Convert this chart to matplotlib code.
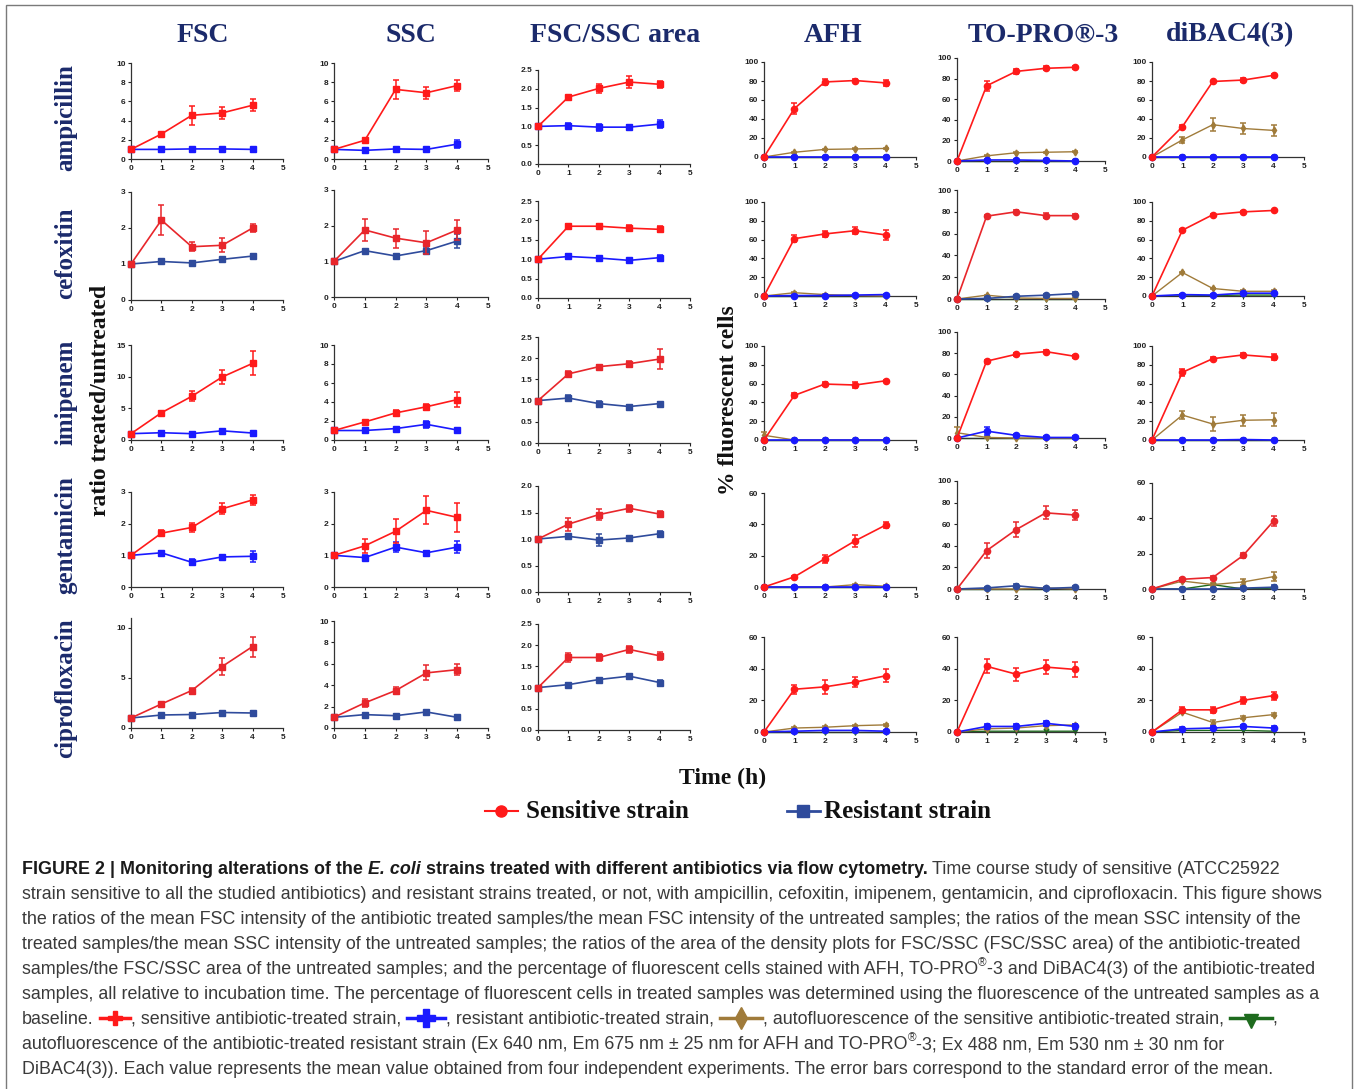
import numpy as np
import matplotlib

matplotlib.use('Agg')  # no display
import matplotlib.pyplot as plt
from matplotlib.lines import Line2D
from matplotlib.patches import Rectangle

# ---- data (time course, 5 antibiotics x 6 measures) ----
TIME = [0, 1, 2, 3, 4]
ANTIBIOTICS = ["ampicillin", "cefoxitin", "imipenem", "gentamicin", "ciprofloxacin"]
MEASURES = ["FSC", "SSC", "FSC/SSC area", "AFH", "TO-PRO\u00ae-3", "diBAC4(3)"]

FSC_S = [[1, 2.6, 4.55, 4.8, 5.6],
         [1, 2.22, 1.48, 1.52, 2.0],
         [1, 4.3, 6.9, 9.95, 12.1],
         [1, 1.7, 1.88, 2.47, 2.75],
         [1, 2.4, 3.75, 6.15, 8.15]]
FSC_S_ERR = [[0, 0.15, 1.0, 0.6, 0.65],
             [0, 0.42, 0.12, 0.2, 0.1],
             [0, 0.2, 0.8, 1.1, 1.9],
             [0, 0.1, 0.15, 0.17, 0.15],
             [0, 0.15, 0.3, 0.85, 1.0]]
FSC_R = [[1, 1.0, 1.05, 1.05, 1.0],
         [1, 1.07, 1.03, 1.13, 1.22],
         [1, 1.15, 1.0, 1.45, 1.1],
         [1, 1.08, 0.78, 0.95, 0.97],
         [1, 1.3, 1.35, 1.55, 1.5]]
FSC_R_ERR = [[0, 0.1, 0.1, 0.1, 0.1],
             [0, 0.04, 0.04, 0.05, 0.05],
             [0, 0.25, 0.2, 0.25, 0.2],
             [0, 0.05, 0.1, 0.05, 0.18],
             [0, 0.2, 0.2, 0.2, 0.2]]

SSC_S = [[1, 1.95, 7.25, 6.9, 7.65],
         [1, 1.88, 1.65, 1.52, 1.88],
         [1, 1.9, 2.85, 3.5, 4.25],
         [1, 1.3, 1.76, 2.42, 2.2],
         [1, 2.35, 3.5, 5.15, 5.45]]
SSC_S_ERR = [[0, 0.1, 0.95, 0.65, 0.6],
             [0, 0.3, 0.27, 0.32, 0.28],
             [0, 0.15, 0.3, 0.3, 0.8],
             [0, 0.23, 0.38, 0.44, 0.45],
             [0, 0.35, 0.35, 0.7, 0.5]]
SSC_R = [[1, 0.9, 1.05, 1.0, 1.55],
         [1, 1.3, 1.15, 1.3, 1.57],
         [1, 1.0, 1.2, 1.65, 1.05],
         [1, 0.93, 1.26, 1.08, 1.26],
         [1, 1.25, 1.15, 1.5, 1.0]]
SSC_R_ERR = [[0, 0.1, 0.15, 0.1, 0.4],
             [0, 0.05, 0.05, 0.1, 0.2],
             [0, 0.1, 0.1, 0.4, 0.15],
             [0, 0.08, 0.15, 0.05, 0.2],
             [0, 0.1, 0.1, 0.1, 0.1]]

AREA_S = [[1, 1.78, 2.01, 2.18, 2.12],
          [1, 1.85, 1.85, 1.8, 1.77],
          [1, 1.63, 1.8, 1.87, 1.98],
          [1, 1.28, 1.46, 1.58, 1.47],
          [1, 1.71, 1.71, 1.9, 1.75]]
AREA_S_ERR = [[0, 0.03, 0.12, 0.15, 0.1],
              [0, 0.05, 0.05, 0.07, 0.08],
              [0, 0.07, 0.04, 0.07, 0.24],
              [0, 0.12, 0.1, 0.07, 0.05],
              [0, 0.1, 0.08, 0.09, 0.09]]
AREA_R = [[1, 1.02, 0.98, 0.98, 1.06],
          [1, 1.07, 1.03, 0.97, 1.04],
          [1, 1.06, 0.93, 0.86, 0.93],
          [1, 1.05, 0.98, 1.02, 1.1],
          [1, 1.07, 1.19, 1.27, 1.12]]
AREA_R_ERR = [[0, 0.06, 0.09, 0.05, 0.1],
              [0, 0.07, 0.06, 0.03, 0.06],
              [0, 0.08, 0.05, 0.03, 0.04],
              [0, 0.03, 0.12, 0.04, 0.05],
              [0, 0.05, 0.04, 0.06, 0.07]]

AFH_S = [[0, 51, 79, 80.5, 78],
         [0, 61, 66, 69.5, 65],
         [0, 47.5, 59.5, 58.5, 63],
         [0, 6.5, 18, 29.5, 39.5],
         [0, 27, 28.5, 31.5, 35.5]]
AFH_S_ERR = [[0, 6, 3, 2, 3],
             [0, 4, 3.5, 4, 5],
             [0, 2, 2, 3.5, 1],
             [0, 0.5, 2.5, 4, 2],
             [0, 3, 4.5, 3, 4]]
AFH_R = [[0, 0, 0, 0, 0],
         [0, 0.5, 0.5, 1, 1.5],
         [0, 0, 0, 0, 0],
         [0, 0, 0, 0, 0],
         [0, 0.5, 1, 1, 0.5]]
AFH_R_ERR = [[0, 1, 1, 1, 1],
             [0, 1, 1, 1, 1],
             [0, 0.5, 0.5, 0.5, 0.5],
             [0, 0.5, 0.5, 0.5, 0.5],
             [0, 1, 1, 1, 1]]
AFH_AUTO_S = [[0, 5, 8, 8.5, 9],
              [0, 3.5, 1.5, 0.5, 0],
              [5, 0, 0, 0, 0],
              [0, 0, 0, 1.5, 0.5],
              [0, 2.5, 3, 4, 4.5]]
AFH_AUTO_S_ERR = [[0, 0.5, 0.5, 0.5, 0.5],
                  [0, 0.5, 0.5, 0.5, 0],
                  [3, 0, 0, 0, 0],
                  [0, 0, 0, 0.5, 0.5],
                  [0, 0.5, 0.5, 0.5, 0.5]]
AFH_AUTO_R = [[0, 0, 0, 0, 0],
              [0, 0, 0, 0, 0],
              [0, 0, 0, 0, 0],
              [0, 0, 0, 0, 0],
              [0, 0, 0, 0, 0]]

TOPRO_S = [[0, 73, 87, 90, 91],
           [0, 76, 80, 76.5, 76.5],
           [0, 72.5, 79, 81.5, 77],
           [0, 35.5, 55, 70.5, 68.5],
           [0, 41.5, 36.5, 41, 39.5]]
TOPRO_S_ERR = [[0, 5, 2.5, 2, 1.5],
               [0, 1, 1.5, 2.5, 1.5],
               [0, 1.5, 1.5, 1.5, 1.5],
               [0, 7, 7, 6, 5],
               [0, 4.5, 4, 4.5, 4.5]]
TOPRO_R = [[0, 1, 1, 0.5, 0],
           [0, 0.5, 2.5, 3.5, 5],
           [0, 6.5, 2.5, 0.5, 0.5],
           [0, 1, 3, 0.5, 1.5],
           [0, 3.5, 3.5, 5.5, 3.5]]
TOPRO_R_ERR = [[0, 1, 1, 1, 1],
               [0, 1, 1, 1.5, 1.5],
               [0, 4, 1.5, 1, 1],
               [0, 1, 1.5, 1, 1],
               [0, 1.5, 1.5, 1.5, 1.5]]
TOPRO_AUTO_S = [[0, 5, 8, 8.5, 9],
                [0, 3.5, 1, 0.5, 0.5],
                [5, 0.5, 0, 0, 0],
                [0, 0, 0, 1, 0],
                [0, 2, 2.5, 4, 4.5]]
TOPRO_AUTO_S_ERR = [[0, 0.5, 0.5, 0.5, 0.5],
                    [0, 0.5, 0.5, 0.5, 0.5],
                    [5, 0.5, 0, 0, 0],
                    [0, 0, 0, 0.5, 0],
                    [0, 0.5, 0.5, 0.5, 0.5]]
TOPRO_AUTO_R = [[0, 0, 0, 0, 0],
                [0, 0, 0, 0, 0],
                [0, 0, 0, 0, 0],
                [0, 0, 0, 0, 0],
                [0, 0.5, 0.5, 0.5, 0.5]]

DIBAC_S = [[0, 32, 79.5, 81, 86],
           [0, 70, 86.5, 89.5, 91],
           [0, 72, 86.5, 90.5, 88],
           [0, 5.5, 6.5, 19, 38.5],
           [0, 14, 14, 20, 23]]
DIBAC_S_ERR = [[0, 1.5, 1, 2.5, 1.5],
               [0, 1, 1, 1, 1],
               [0, 4, 1.5, 2.5, 3],
               [0, 1, 1, 1.5, 3],
               [0, 2, 2, 2, 2.5]]
DIBAC_R = [[0, 0, 0, 0, 0],
           [0, 1.5, 1, 3, 3],
           [0, 0, 0, 0.5, 0],
           [0, 0, 0, 0.5, 1],
           [0, 2, 2.5, 3.5, 2.5]]
DIBAC_R_ERR = [[0, 1, 1, 1, 1],
               [0, 1, 1, 1, 1],
               [0, 0.5, 0.5, 1, 0.5],
               [0, 0.5, 0.5, 0.5, 1],
               [0, 1, 1, 1, 1]]
DIBAC_AUTO_S = [[0, 18, 34, 30, 28],
                [0, 25, 8, 5, 5],
                [0, 26.5, 17, 21, 21.5],
                [0, 4.5, 2.5, 4, 7],
                [0, 12.5, 6, 9, 11]]
DIBAC_AUTO_S_ERR = [[0, 3, 7, 6, 6],
                    [0, 1, 1, 1, 1],
                    [0, 4, 7, 6, 7],
                    [0, 0.5, 1, 1.5, 2.5],
                    [0, 0.5, 1.5, 1, 1]]
DIBAC_AUTO_R = [[0, 0, 0, 0, 0],
                [0, 0, 0.5, 1, 1],
                [0, 0, 0, 0, 0],
                [0, 0, 2.5, 0, 0.5],
                [0, 1, 1, 1, 0.5]]

# ---- layout (pixels in a 1358 x 1089 canvas) ----
W, H = 1358, 1089
COL_X0 = [131, 334, 538, 764, 957, 1152]
COL_X5 = [283, 488, 690, 916, 1105, 1304]
PANEL_TOP = [[63, 63, 70, 62, 58, 62],
             [192, 190, 201, 202, 190, 202],
             [345, 345, 337, 346, 332, 346],
             [492, 492, 486, 493, 481, 483],
             [618, 621, 624, 637, 637, 637]]
PANEL_BOTTOM = [[159, 159, 164, 157, 161, 157],
                [300, 297, 298, 296, 299, 296],
                [440, 440, 443, 440, 438, 440],
                [587, 587, 592, 587, 589, 589],
                [728, 728, 730, 732, 732, 732]]
YMAX = [[10, 10, 2.5, 100, 100, 100],
        [3, 3, 2.5, 100, 100, 100],
        [15, 10, 2.5, 100, 100, 100],
        [3, 3, 2.0, 60, 100, 60],
        [11, 10, 2.5, 60, 60, 60]]
YSTEP = [[2, 2, 0.5, 20, 20, 20],
         [1, 1, 0.5, 20, 20, 20],
         [5, 2, 0.5, 20, 20, 20],
         [1, 1, 0.5, 20, 20, 20],
         [5, 2, 0.5, 20, 20, 20]]
# panels where the resistant strain is drawn in navy rather than pure blue
NAVY_PANEL = [[0, 0, 0, 0, 0, 0],
              [1, 1, 0, 0, 1, 0],
              [0, 0, 1, 0, 0, 0],
              [0, 0, 1, 0, 1, 1],
              [1, 1, 1, 0, 0, 0]]

RED = '#ff1a1a'
RED_DIM = '#e8262b'
BLUE = '#1a1aff'
NAVY = '#2f4b9c'
BROWN = '#a07b3a'
GREEN = '#1e6b1e'
TITLE_C = '#1b2a6b'

SENS = [FSC_S, SSC_S, AREA_S, AFH_S, TOPRO_S, DIBAC_S]
SENS_ERR = [FSC_S_ERR, SSC_S_ERR, AREA_S_ERR, AFH_S_ERR, TOPRO_S_ERR, DIBAC_S_ERR]
RES = [FSC_R, SSC_R, AREA_R, AFH_R, TOPRO_R, DIBAC_R]
RES_ERR = [FSC_R_ERR, SSC_R_ERR, AREA_R_ERR, AFH_R_ERR, TOPRO_R_ERR, DIBAC_R_ERR]
AUTO_S = {3: AFH_AUTO_S, 4: TOPRO_AUTO_S, 5: DIBAC_AUTO_S}
AUTO_S_ERR = {3: AFH_AUTO_S_ERR, 4: TOPRO_AUTO_S_ERR, 5: DIBAC_AUTO_S_ERR}
AUTO_R = {3: AFH_AUTO_R, 4: TOPRO_AUTO_R, 5: DIBAC_AUTO_R}

fig = plt.figure(figsize=(W / 100, H / 100), dpi=100)


def fx(x):
    return x / W


def fy(y):
    return 1 - y / H


def series(ax, y, err, color, marker, ms, z, lw=1.2):
    cont = ax.errorbar(TIME, y, yerr=err, color=color, marker=marker, ms=ms,
                       lw=lw, elinewidth=1.1, capsize=2, capthick=1.1,
                       mec=color, zorder=z)
    for art in cont.get_children():
        art.set_clip_on(False)


for r in range(5):
    for c in range(6):
        x0, x5 = COL_X0[c], COL_X5[c]
        top, bot = PANEL_TOP[r][c], PANEL_BOTTOM[r][c]
        ax = fig.add_axes([fx(x0), fy(bot), (x5 - x0) / W, (bot - top) / H])
        ax.set_xlim(0, 5)
        ax.set_ylim(0, YMAX[r][c])
        for s in ['top', 'right']:
            ax.spines[s].set_visible(False)
        for s in ['left', 'bottom']:
            ax.spines[s].set_color('#333333')
            ax.spines[s].set_linewidth(0.9)
        ax.set_xticks(range(6))
        yt = np.arange(0, YMAX[r][c] + 1e-9, YSTEP[r][c])
        ax.set_yticks(yt)
        if c == 2:
            ax.set_yticklabels(['%.1f' % v for v in yt])
        else:
            ax.set_yticklabels(['%g' % v for v in yt])
        ax.tick_params(length=2.5, width=0.8, pad=1.5, labelsize=6,
                       colors='#222222')
        for lab in ax.get_xticklabels() + ax.get_yticklabels():
            lab.set_fontweight('bold')
            lab.set_family('Liberation Sans')
        ax.patch.set_alpha(0)

        res_c = NAVY if NAVY_PANEL[r][c] else BLUE
        red_c = RED_DIM if NAVY_PANEL[r][c] else RED
        if c < 3:
            series(ax, RES[c][r], RES_ERR[c][r], res_c, 's', 5, 3)
            series(ax, SENS[c][r], SENS_ERR[c][r], red_c, 's', 5, 4)
        else:
            series(ax, AUTO_R[c][r], None, GREEN, 'v', 3.5, 2, lw=1.0)
            series(ax, AUTO_S[c][r], AUTO_S_ERR[c][r], BROWN, 'd', 3.5, 3, lw=1.0)
            series(ax, RES[c][r], RES_ERR[c][r], res_c, 'o', 4.5, 4)
            series(ax, SENS[c][r], SENS_ERR[c][r], red_c, 'o', 4.5, 5)

# ---- titles and labels ----
serif = 'Liberation Serif'
title_x = [203, 411, 615, 833, 1043, 1230]
for name, xc in zip(MEASURES, title_x):
    fig.text(fx(xc), fy(35), name, ha='center', va='center', fontsize=20,
             family=serif, weight='bold', color=TITLE_C)

row_y = [118, 253, 392, 535, 688]
for name, yc in zip(ANTIBIOTICS, row_y):
    fig.text(fx(66), fy(yc), name, ha='center', va='center', rotation=90,
             fontsize=18, family=serif, weight='bold', color=TITLE_C)

fig.text(fx(101), fy(400), 'ratio treated/untreated', ha='center', va='center',
         rotation=90, fontsize=17, family=serif, weight='bold', color='#111111')
fig.text(fx(728), fy(400), '% fluorescent cells', ha='center', va='center',
         rotation=90, fontsize=17, family=serif, weight='bold', color='#111111')
fig.text(fx(723), fy(778), 'Time (h)', ha='center', va='center',
         fontsize=17, family=serif, weight='bold', color='#111111')

# legend
fig.add_artist(Line2D([fx(485), fx(518)], [fy(811), fy(811)], color=RED, lw=1.5,
                      transform=fig.transFigure))
fig.add_artist(Line2D([fx(501)], [fy(811)], color=RED, marker='o', ms=8,
                      transform=fig.transFigure))
fig.text(fx(526), fy(811), 'Sensitive strain', ha='left', va='center',
         fontsize=18, family=serif, weight='bold', color='#111111')
fig.add_artist(Line2D([fx(787), fx(820)], [fy(811), fy(811)], color=NAVY, lw=2,
                      transform=fig.transFigure))
fig.add_artist(Line2D([fx(803)], [fy(811)], color=NAVY, marker='s', ms=8,
                      transform=fig.transFigure))
fig.text(fx(824), fy(811), 'Resistant strain', ha='left', va='center',
         fontsize=18, family=serif, weight='bold', color='#111111')

# ---- caption ----
renderer = fig.canvas.get_renderer()
CAP = 12.9
SPACE = 0.278 * CAP * 100 / 72
CAP_C = '#3a3a3a'


def put(x, y, s, kind):
    if kind == 'sup':
        t = fig.text(fx(x), fy(y - 8), s, fontsize=8.5, family='Liberation Sans',
                     color=CAP_C, va='baseline', ha='left')
        return x + t.get_window_extent(renderer).width
    lead = len(s) - len(s.lstrip(' '))
    trail = len(s) - len(s.rstrip(' '))
    core = s.strip(' ')
    x += lead * SPACE
    weight = 'bold' if kind in ('bold', 'bolditalic') else 'normal'
    style = 'italic' if kind == 'bolditalic' else 'normal'
    color = '#1a1a1a' if weight == 'bold' else CAP_C
    t = fig.text(fx(x), fy(y), core, fontsize=CAP, family='Liberation Sans',
                 weight=weight, style=style, color=color, va='baseline', ha='left')
    return x + t.get_window_extent(renderer).width + trail * SPACE


ICONS = {'red': (RED, 'P', 10, 32), 'blue': (BLUE, 'P', 13, 40),
         'brown': (BROWN, 'd', 11, 44), 'green': (GREEN, 'v', 10, 44)}


def icon(x, y, key):
    color, mk, ms, w = ICONS[key]
    yc = y - 6
    fig.add_artist(Line2D([fx(x + 1), fx(x + w - 1)], [fy(yc), fy(yc)], color=color,
                          lw=2.5, transform=fig.transFigure))
    my = yc + 3 if key == 'green' else yc
    fig.add_artist(Line2D([fx(x + w / 2)], [fy(my)], color=color, marker=mk, ms=ms,
                          transform=fig.transFigure))
    return x + w


CAPTION = [
    [("FIGURE 2 | Monitoring alterations of the ", 'bold'), ("E. coli", 'bolditalic'),
     (" strains treated with different antibiotics via flow cytometry.", 'bold'),
     (" Time course study of sensitive (ATCC25922", 'normal')],
    [("strain sensitive to all the studied antibiotics) and resistant strains treated, "
      "or not, with ampicillin, cefoxitin, imipenem, gentamicin, and ciprofloxacin. "
      "This figure shows", 'normal')],
    [("the ratios of the mean FSC intensity of the antibiotic treated samples/the mean "
      "FSC intensity of the untreated samples; the ratios of the mean SSC intensity of the",
      'normal')],
    [("treated samples/the mean SSC intensity of the untreated samples; the ratios of the "
      "area of the density plots for FSC/SSC (FSC/SSC area) of the antibiotic-treated",
      'normal')],
    [("samples/the FSC/SSC area of the untreated samples; and the percentage of fluorescent "
      "cells stained with AFH, TO-PRO", 'normal'), ("\u00ae", 'sup'),
     ("-3 and DiBAC4(3) of the antibiotic-treated", 'normal')],
    [("samples, all relative to incubation time. The percentage of fluorescent cells in "
      "treated samples was determined using the fluorescence of the untreated samples as a",
      'normal')],
    [("baseline. ", 'normal'), ('red', 'icon'),
     (", sensitive antibiotic-treated strain, ", 'normal'), ('blue', 'icon'),
     (", resistant antibiotic-treated strain, ", 'normal'), ('brown', 'icon'),
     (", autofluorescence of the sensitive antibiotic-treated strain, ", 'normal'),
     ('green', 'icon'), (",", 'normal')],
    [("autofluorescence of the antibiotic-treated resistant strain (Ex 640 nm, Em 675 nm "
      "\u00b1 25 nm for AFH and TO-PRO", 'normal'), ("\u00ae", 'sup'),
     ("-3; Ex 488 nm, Em 530 nm \u00b1 30 nm for", 'normal')],
    [("DiBAC4(3)). Each value represents the mean value obtained from four independent "
      "experiments. The error bars correspond to the standard error of the mean.", 'normal')],
]

for i, line in enumerate(CAPTION):
    y = 874 + 25 * i
    x = 22
    for s, kind in line:
        if kind == 'icon':
            x = icon(x, y, s)
        else:
            x = put(x, y, s, kind)

# frame around the figure
fig.add_artist(Rectangle((fx(6), fy(1100)), (1352 - 6) / W, (1100 - 5) / H,
                         transform=fig.transFigure, fill=False, ec='#7a7a7a', lw=1))

fig.savefig('out.png', dpi=100)
plt.close()
